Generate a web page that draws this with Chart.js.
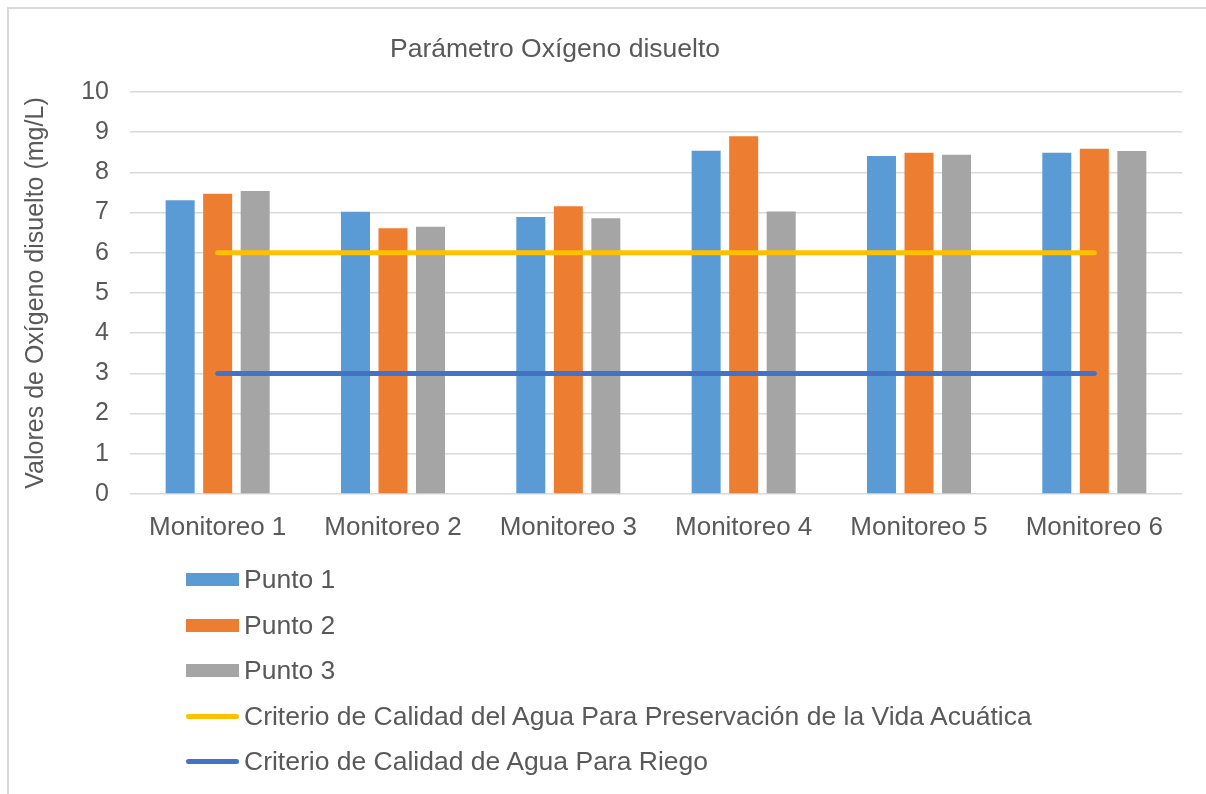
<!DOCTYPE html>
<html>
<head>
<meta charset="utf-8">
<script src="https://cdn.jsdelivr.net/npm/chart.js@4/dist/chart.umd.min.js"></script>
<style>
    body { margin: 0; background: #fff; font-family: "Liberation Sans", Arial, sans-serif; }
    #wrap { position: relative; width: 1206px; height: 794px; overflow: hidden; }
    #frame { position: absolute; left: 7px; top: 7px; width: 1300px; height: 900px;
             border-left: 2px solid #d9d9d9; border-top: 2px solid #d9d9d9; }
    #chart { position: absolute; left: 0; top: 0; }
    #legend { position: absolute; left: 186px; top: 557px; color: #595959; font-size: 26.5px; }
    .item { height: 45.5px; display: flex; align-items: center; }
    .sw { width: 53px; margin-right: 5px; }
    .box { height: 13px; }
    .ln { height: 5px; border-radius: 3px; }
</style>
</head>
<body>
<div id="wrap">
    <div id="frame"></div>
    <canvas id="chart" width="1206" height="560"></canvas>
    <div id="legend"></div>
</div>
<script>
const categories = ["Monitoreo 1", "Monitoreo 2", "Monitoreo 3", "Monitoreo 4", "Monitoreo 5", "Monitoreo 6"];
const punto1 = [7.31, 7.02, 6.89, 8.54, 8.41, 8.49];
const punto2 = [7.47, 6.61, 7.16, 8.90, 8.49, 8.59];
const punto3 = [7.54, 6.65, 6.86, 7.03, 8.44, 8.53];
const criterioVida = [6, 6, 6, 6, 6, 6];
const criterioRiego = [3, 3, 3, 3, 3, 3];

const TEXT = "#595959";
const FONT = "'Liberation Sans', Arial, sans-serif";

// title drawn a bit left of centre, like the original
const titlePlugin = {
    id: "leftTitle",
    afterDraw(chart) {
        const ctx = chart.ctx;
        ctx.save();
        ctx.fillStyle = TEXT;
        ctx.font = "26.5px " + FONT;
        ctx.textAlign = "center";
        ctx.textBaseline = "middle";
        ctx.fillText("Parámetro Oxígeno disuelto", 555, 50);
        ctx.restore();
    }
};

const barOpts = { type: "bar", order: 2, categoryPercentage: 0.642, barPercentage: 0.773 };
const lineOpts = { type: "line", order: 1, borderWidth: 5, pointRadius: 0, borderCapStyle: "round", fill: false };

const chart = new Chart(document.getElementById("chart"), {
    data: {
        labels: categories,
        datasets: [
            { ...barOpts, label: "Punto 1", data: punto1, backgroundColor: "#5B9BD5" },
            { ...barOpts, label: "Punto 2", data: punto2, backgroundColor: "#ED7D31" },
            { ...barOpts, label: "Punto 3", data: punto3, backgroundColor: "#A5A5A5" },
            { ...lineOpts, label: "Criterio de Calidad del Agua Para Preservación de la Vida Acuática", data: criterioVida, borderColor: "#FFC000", backgroundColor: "#FFC000" },
            { ...lineOpts, label: "Criterio de Calidad de Agua Para Riego", data: criterioRiego, borderColor: "#4472C4", backgroundColor: "#4472C4" }
        ]
    },
    options: {
        responsive: false,
        animation: false,
        layout: { padding: { left: 10, right: 24, top: 92, bottom: 0 } },
        plugins: { legend: { display: false }, tooltip: { enabled: false } },
        scales: {
            x: {
                grid: { display: false },
                border: { display: false },
                ticks: { color: TEXT, font: { size: 26, family: FONT }, padding: 10 },
                afterFit: s => { s.height = 66; }
            },
            y: {
                min: 0, max: 10,
                ticks: { stepSize: 1, color: TEXT, font: { size: 25, family: FONT }, padding: 21 },
                grid: { color: "#d9d9d9", lineWidth: 1.5, drawTicks: false },
                border: { display: false },
                title: { display: true, text: "Valores de Oxígeno disuelto (mg/L)", color: TEXT, font: { size: 25, family: FONT }, padding: { top: 11, bottom: 0 } },
                afterFit: s => { s.width = 120; }
            }
        }
    },
    plugins: [titlePlugin]
});

// vertical legend, built from the chart's datasets
const legend = document.getElementById("legend");
chart.data.datasets.forEach(ds => {
    const item = document.createElement("div");
    item.className = "item";
    const sw = document.createElement("div");
    sw.className = "sw " + (ds.type === "bar" ? "box" : "ln");
    sw.style.background = ds.type === "bar" ? ds.backgroundColor : ds.borderColor;
    const txt = document.createElement("span");
    txt.textContent = ds.label;
    item.appendChild(sw);
    item.appendChild(txt);
    legend.appendChild(item);
});
</script>
</body>
</html>
